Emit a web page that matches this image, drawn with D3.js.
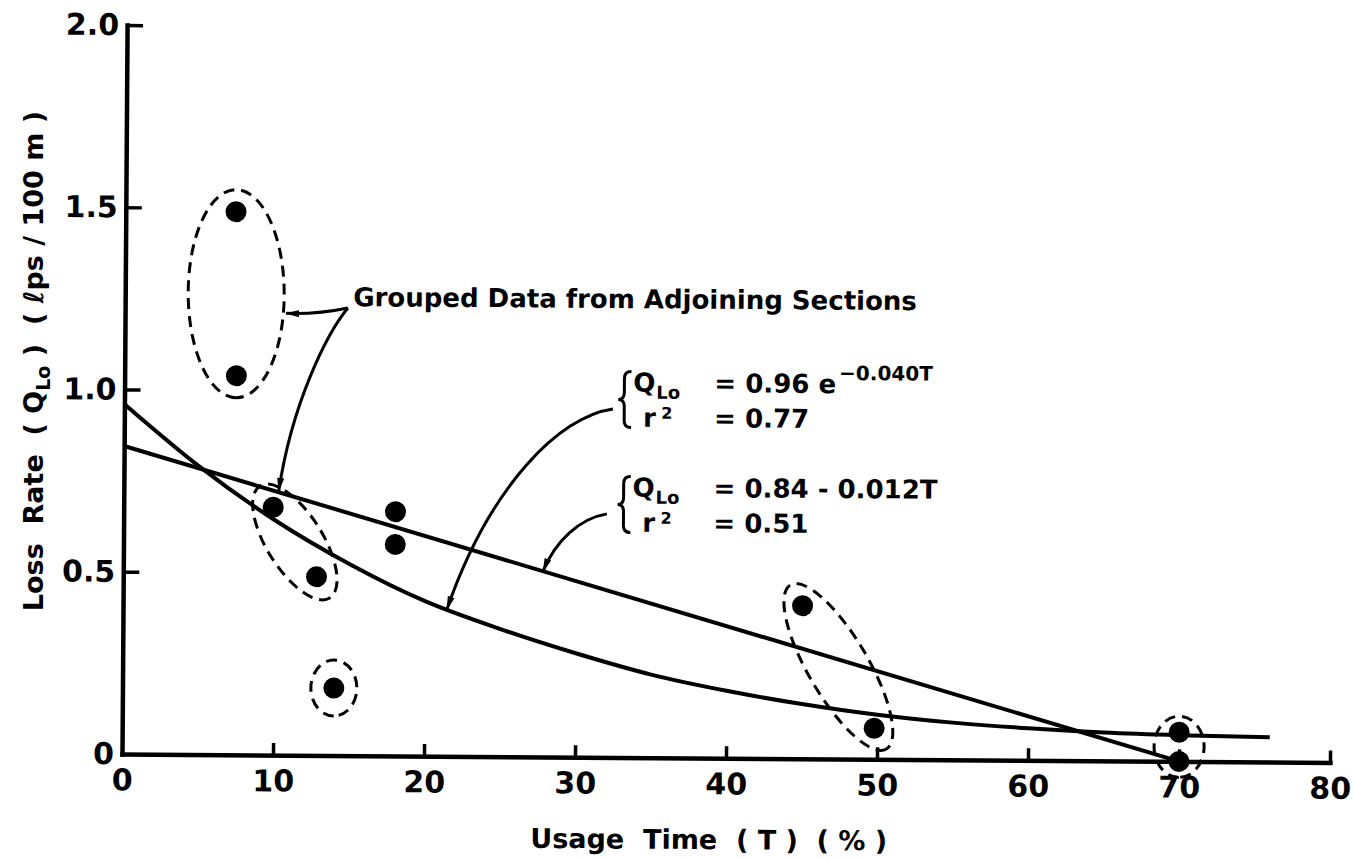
<!DOCTYPE html>
<html>
<head>
<meta charset="utf-8">
<script src="https://cdn.jsdelivr.net/npm/d3@7"></script>
<style>
body { margin: 0; background: #fff; }
text { font-family: "DejaVu Sans", sans-serif; font-weight: bold; fill: #000; white-space: pre; }
</style>
</head>
<body>
<script>
// points
var usageT = [7.3, 7.4, 9.9, 12.8, 14.0, 18.0, 18.0, 45.0, 49.8, 70.0, 70.0];
var lossQ  = [1.49, 1.04, 0.68, 0.49, 0.185, 0.67, 0.58, 0.42, 0.085, 0.08, 0.0];

// exponential fit, as it is drawn
var expT = [0, 5, 10, 15, 20, 25, 30, 35, 40, 45, 50, 55, 60, 65, 70, 76];
var expQ = [0.96, 0.79, 0.645, 0.525, 0.425, 0.35, 0.285, 0.228, 0.185, 0.15, 0.122, 0.102, 0.088, 0.078, 0.072, 0.068];

// linear fit
var linT = [0, 70];
var linQ = [0.845, 0.0];

var xTicks = [0, 10, 20, 30, 40, 50, 60, 70, 80];
var yTicks = [0, 0.5, 1.0, 1.5, 2.0];
var yTickLabels = ['0', '0.5', '1.0', '1.5', '2.0'];

// which points are circled together
var groups = [[0, 1], [2, 3], [4], [7, 8], [9, 10]];

var W = 1353, H = 859;
var x = d3.scaleLinear().domain([0, 80]).range([122, 1330]);
var y = d3.scaleLinear().domain([0, 2]).range([754, 25]);

var svg = d3.select('body').append('svg').attr('width', W).attr('height', H);

var defs = svg.append('defs');
defs.append('marker').attr('id', 'head')
  .attr('viewBox', '0 -4 14 8').attr('refX', 13).attr('refY', 0)
  .attr('markerWidth', 14).attr('markerHeight', 8)
  .attr('markerUnits', 'userSpaceOnUse').attr('orient', 'auto')
  .append('path').attr('d', 'M0,-3.5L14,0L0,3.5Z').attr('fill', '#000');

// the scan sits tipped a little clockwise
var g = svg.append('g').attr('transform', 'rotate(0.4,' + x(0) + ',' + y(0) + ')');

//axes
var xAxis = d3.axisBottom(x).tickValues(xTicks).tickSizeInner(-12).tickSizeOuter(0).tickPadding(15);
var gx = g.append('g').attr('transform', 'translate(0,' + y(0) + ')').call(xAxis);
var yAxis = d3.axisLeft(y).tickValues(yTicks).tickSizeInner(-16).tickSizeOuter(0).tickPadding(8)
  .tickFormat(function(d, i) { return yTickLabels[i]; });
var gy = g.append('g').attr('transform', 'translate(' + x(0) + ',0)').call(yAxis);

[gx, gy].forEach(function(a) {
  a.attr('font-family', null).attr('font-size', null);
  a.select('.domain').attr('stroke-width', 4.5).attr('stroke-linecap', 'square');
  a.selectAll('.tick line').attr('stroke-width', 3.5);
  a.selectAll('.tick text').attr('font-size', 30);
});
gx.selectAll('.tick').filter(function(d) { return d === 0; }).select('line').remove();
gy.selectAll('.tick').filter(function(d) { return d === 0; }).select('line').remove();

//fit lines
var line = d3.line().x(function(d) { return x(d[0]); }).y(function(d) { return y(d[1]); });
g.append('path')
  .datum(d3.zip(expT, expQ))
  .attr('d', line.curve(d3.curveMonotoneX))
  .attr('fill', 'none').attr('stroke', '#000').attr('stroke-width', 4);
g.append('path')
  .datum(d3.zip(linT, linQ))
  .attr('d', d3.line().x(function(d) { return x(d[0]); }).y(function(d) { return y(d[1]); }))
  .attr('fill', 'none').attr('stroke', '#000').attr('stroke-width', 4);

//points
g.selectAll('circle.pt')
  .data(d3.zip(usageT, lossQ))
  .enter().append('circle')
  .attr('class', 'pt')
  .attr('cx', function(d) { return x(d[0]); })
  .attr('cy', function(d) { return y(d[1]); })
  .attr('r', 10.5)
  .attr('fill', '#000');

//dashed rings round grouped points
var ringPad = [22, 25, 28, 24, 16];
var ringWidth = [48, 28, 23, 30, 25];
groups.forEach(function(grp, i) {
  var pts = grp.map(function(k) { return [x(usageT[k]), y(lossQ[k])]; });
  var a = pts[0], b = pts[pts.length - 1];
  var cx = (a[0] + b[0]) / 2, cy = (a[1] + b[1]) / 2;
  var half = Math.hypot(b[0] - a[0], b[1] - a[1]) / 2;
  var ang = grp.length > 1 ? Math.atan2(b[1] - a[1], b[0] - a[0]) * 180 / Math.PI : 90;
  g.append('ellipse')
    .attr('cx', 0).attr('cy', 0)
    .attr('rx', half + ringPad[i]).attr('ry', ringWidth[i])
    .attr('transform', 'translate(' + cx + ',' + cy + ') rotate(' + ang + ')')
    .attr('fill', 'none').attr('stroke', '#000')
    .attr('stroke-width', 3).attr('stroke-dasharray', '11,7');
});

//grouped data note
g.append('text')
  .attr('x', x(15.1)).attr('y', y(1.233))
  .attr('font-size', 26)
  .text('Grouped Data from Adjoining Sections');
var curveArrow = function(p) {
  var s = p.map(function(d) { return [x(d[0]), y(d[1])]; });
  var path = d3.path();
  path.moveTo(s[0][0], s[0][1]);
  if (s.length === 4) path.bezierCurveTo(s[1][0], s[1][1], s[2][0], s[2][1], s[3][0], s[3][1]);
  else path.quadraticCurveTo(s[1][0], s[1][1], s[2][0], s[2][1]);
  g.append('path').attr('d', path.toString())
    .attr('fill', 'none').attr('stroke', '#000').attr('stroke-width', 3)
    .attr('marker-end', 'url(#head)');
};
curveArrow([[14.75, 1.228], [12.8, 1.21], [10.66, 1.212]]);
curveArrow([[14.75, 1.228], [13.4, 1.159], [11.1, 0.968], [10.26, 0.725]]);

//equation blocks
var expAt = function(t) { return d3.scaleLinear().domain(expT).range(expQ)(t); };
var linAt = function(t) { return d3.scaleLinear().domain(linT).range(linQ)(t); };

function brace(sel, h) {
  var p = d3.path();
  p.moveTo(7, -h);
  p.quadraticCurveTo(0, -h, 0, -h + 7);
  p.lineTo(0, -7);
  p.quadraticCurveTo(0, 0, -6, 0);
  p.quadraticCurveTo(0, 0, 0, 7);
  p.lineTo(0, h - 7);
  p.quadraticCurveTo(0, h, 7, h);
  sel.append('path').attr('d', p.toString())
    .attr('fill', 'none').attr('stroke', '#000').attr('stroke-width', 3);
}

function equation(t, q, rhs, sup, r2) {
  var e = g.append('g').attr('transform', 'translate(' + x(t) + ',' + y(q) + ')');
  brace(e, 28);
  e.append('text').attr('x', 9).attr('y', -8).attr('font-size', 26).text('Q');
  e.append('text').attr('x', 32).attr('y', -1).attr('font-size', 18).text('Lo');
  e.append('text').attr('x', 19).attr('y', 27).attr('font-size', 26).text('r');
  e.append('text').attr('x', 37).attr('y', 19).attr('font-size', 16).text('2');
  var t1 = e.append('text').attr('x', 90).attr('y', -8).attr('font-size', 26).text(rhs);
  if (sup) t1.append('tspan').attr('dy', -13).attr('dx', 3).attr('font-size', 20).text(sup);
  e.append('text').attr('x', 90).attr('y', 27).attr('font-size', 26).text('= ' + r2);
}
equation(33.1, 0.982, '= 0.96 e', '\u22120.040T', '0.77');
equation(33.1, 0.694, '= 0.84 - 0.012T', null, '0.51');

curveArrow([[32.35, 0.956], [28.85, 0.935], [24.25, 0.745], [21.45, expAt(21.45)]]);
curveArrow([[32.0, 0.668], [30.2, 0.655], [28.6, 0.593], [27.8, linAt(27.8)]]);

//axis titles
g.append('text')
  .attr('x', x(38.9)).attr('y', y(0) + 91)
  .attr('text-anchor', 'middle').attr('font-size', 27)
  .text('Usage  Time  ( T )  ( % )');

var yt = svg.append('text')
  .attr('transform', 'translate(43,361) rotate(-90)')
  .attr('text-anchor', 'middle').attr('font-size', 27);
yt.append('tspan').text('Loss  Rate  ( Q');
yt.append('tspan').attr('dy', 7).attr('font-size', 19).text('Lo');
yt.append('tspan').attr('dy', -7).text(' )  ( \u2113ps / 100 m )');
</script>
</body>
</html>
